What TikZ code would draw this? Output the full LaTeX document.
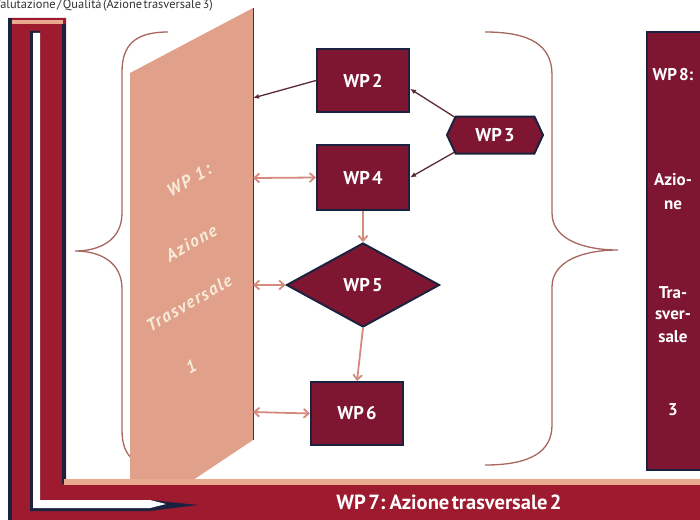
\documentclass[tikz,border=0pt]{standalone}
\usepackage{fontspec}
\setmainfont{PT Sans}
\usetikzlibrary{arrows.meta,shapes.geometric,shapes.symbols}
\definecolor{barred}{HTML}{9E1B2F}
\definecolor{navy}{HTML}{1B2240}
\definecolor{salmon}{HTML}{E0A08A}
\definecolor{strip}{HTML}{EAAA90}
\definecolor{boxfill}{HTML}{7E1631}
\definecolor{bracecol}{HTML}{A8675F}
\definecolor{arrsal}{HTML}{D48A7D}
\definecolor{arrdark}{HTML}{5B2B33}
\definecolor{cream}{HTML}{F7EAD8}
\definecolor{titlegray}{HTML}{333333}
\newcommand{\tightsp}{\spaceskip=0.12em\relax}
\begin{document}
\begin{tikzpicture}[x=1pt,y=-1pt,
  wpfont/.style={font=\bfseries\fontsize{18.5}{21}\selectfont\tightsp},
  wpbox/.style={draw=navy, line width=2pt, fill=boxfill, text=white, wpfont, inner sep=0pt},
  wprect/.style={wpbox, rectangle, minimum width=92pt, minimum height=63pt},
  wponetext/.style={rotate=30, text=cream, inner sep=0pt,
    font=\bfseries\itshape\fontsize{17.5}{20}\selectfont\addfontfeatures{LetterSpace=9}},
  weighttext/.style={text=white, inner sep=0pt, font=\bfseries\fontsize{17}{20}\selectfont\tightsp},
  bracepath/.style={draw=bracecol, line width=1.3pt},
  salarrow/.style={draw=arrsal, line width=1.8pt, {Straight Barb[length=5pt,width=9pt]}-{Straight Barb[length=5pt,width=9pt]}},
  salone/.style={draw=arrsal, line width=1.8pt, -{Straight Barb[length=5pt,width=9pt]}},
  darkarrow/.style={draw=arrdark, line width=1.3pt, -{Latex[length=6pt,width=5pt,fill=black]}}
]
\useasboundingbox (0,0) rectangle (700,519);
\fill[white] (0,0) rectangle (700,519);

% title
\node[anchor=east, inner sep=0pt, text=titlegray, font=\fontsize{12.4}{14}\selectfont\tightsp] (title) at (213,5) {Valutazione / Qualità (Azione trasversale 3)};

% left brace
\draw[bracepath] (168,32) .. controls (135,32) and (122,45) .. (122,72) -- (122,213)
  .. controls (122,240) and (100,251) .. (75,251)
  .. controls (100,251) and (122,262) .. (122,289) -- (122,430)
  .. controls (122,457) and (135,468) .. (168,468);

% right brace
\draw[bracepath] (485,32) .. controls (530,32) and (552,45) .. (552,75) -- (552,213)
  .. controls (552,240) and (585,250) .. (618,250)
  .. controls (585,250) and (552,260) .. (552,287) -- (552,425)
  .. controls (552,452) and (530,465) .. (485,465);

% WP1 parallelogram
\fill[salmon] (130,482) -- (130,73) -- (253,8) -- (253,440) -- (190,482) -- cycle;
\draw[arrdark, line width=0.8pt] (253,8) -- (253,440);
\coordinate (w1a) at (253,98);
\coordinate (w1b) at (253,178);
\coordinate (w1c) at (253,285);
\coordinate (w1d) at (253,412);
\node[wponetext] (t1a) at (189,180) {WP 1:};
\node[wponetext] (t1b) at (191,243) {Azione};
\node[wponetext] (t1c) at (189,303) {Trasversale};
\node[wponetext] (t1d) at (191,367) {1};

% left L bar and bottom band
\fill[barred] (8,18) -- (66,18) -- (66,480) -- (703,480) -- (703,522) -- (8,522) -- cycle;
\fill[navy] (8,18) rectangle (12,522);
\fill[navy] (62,24) rectangle (66,484);
\fill[strip] (12,20) rectangle (63,24);
\fill[strip] (64,479) rectangle (703,485);
\fill[navy] (30,31) -- (40,31) -- (40,500) -- (150,500) -- (198,505) -- (150,511) -- (30,511) -- cycle;
\fill[white] (33,33) -- (40,33) -- (40,500) -- (150,500) -- (166,504) -- (150,508) -- (33,508) -- cycle;
\node[text=white, inner sep=0pt, font=\bfseries\fontsize{20.5}{23}\selectfont\tightsp] (wp7) at (449,502) {WP 7: Azione trasversale 2};

% WP8 bar
\node[draw=navy, line width=2pt, fill=boxfill, minimum width=56pt, minimum height=438pt, inner sep=0pt] (wp8) at (675,251) {};
\node[weighttext] (t8a) at (673,75) {WP 8:};
\node[weighttext] (t8b) at (673,180) {Azio-};
\node[weighttext] (t8c) at (673,205) {ne};
\node[weighttext] (t8d) at (673,293) {Tra-};
\node[weighttext] (t8e) at (673,315) {sver-};
\node[weighttext] (t8f) at (673,337) {sale};
\node[weighttext] (t8g) at (673,410) {3};

% work package nodes
\node[wprect] (wp2) at (363,80.5) {WP 2};
\node[wprect, minimum height=65pt] (wp4) at (363,177.5) {WP 4};
\node[wprect] (wp6) at (357,413.5) {WP 6};
\node[wpbox, shape=signal, signal to=east and west, signal pointer angle=130,
      minimum width=96pt, minimum height=37pt] (wp3) at (495,135) {WP 3};
\node[wpbox, shape=diamond, minimum width=153pt, minimum height=84pt] (wp5) at (363,285) {WP 5};

% connectors
\draw[darkarrow] (wp2.west) -- (w1a);
\draw[darkarrow] (wp3.156) -- (wp2.-10);
\draw[darkarrow] (wp3.203) -- (wp4.east);
\draw[salarrow] (w1b) -- (wp4.west);
\draw[salarrow] (w1c) -- (wp5.west);
\draw[salarrow] (w1d) -- (wp6.west);
\draw[salone] (wp4.south) -- (wp5.north);
\draw[salone] (wp5.south) -- (wp6.north);
\end{tikzpicture}
\end{document}
